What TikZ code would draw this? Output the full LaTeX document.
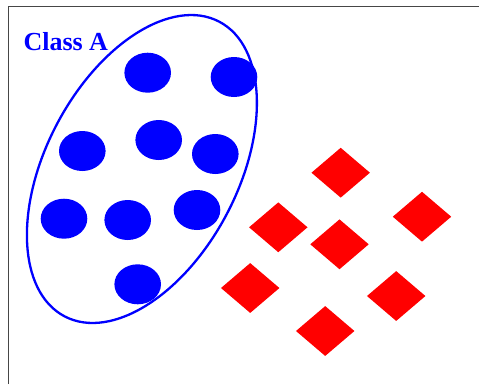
\documentclass[tikz,border=0pt]{standalone}
\usepackage{fontspec}
\setmainfont{Liberation Serif}
\usetikzlibrary{shapes.geometric}
\definecolor{pblue}{RGB}{0,0,255}
\definecolor{pred}{RGB}{255,0,0}
\definecolor{framegray}{RGB}{70,70,70}
\tikzset{
  dot/.style={ellipse, fill=pblue, draw=none, inner sep=0pt, minimum width=46.6pt, minimum height=40pt},
  gem/.style={diamond, fill=pred, draw=none, inner sep=0pt, minimum width=58.6pt, minimum height=50pt},
  hull/.style={ellipse, draw=pblue, line width=2.3pt, inner sep=0pt, minimum width=332.8pt, minimum height=192.2pt, rotate=62.3},
  lbl/.style={text=pblue, font=\bfseries\fontsize{26}{30}\selectfont, inner sep=0pt, anchor=base west}
}
\begin{document}
\begin{tikzpicture}[x=1pt, y=-1pt]
\useasboundingbox (0,0) rectangle (479,384);
\draw[framegray, line width=1.4pt] (8.5,384) |- (479,6.5);
% blue points
\node[dot] (b1) at (147.7,72.7) {};
\node[dot] (b2) at (234,77) {};
\node[dot] (b3) at (82.3,151) {};
\node[dot] (b4) at (158.7,140) {};
\node[dot] (b5) at (215.3,154) {};
\node[dot] (b6) at (64,218.7) {};
\node[dot] (b7) at (127.7,220) {};
\node[dot] (b8) at (197,210) {};
\node[dot] (b9) at (137.7,284.3) {};
% class boundary
\node[hull] (classA) at (141.9,169) {};
\node[lbl] (classAlabel) at (23.3,50) {Class A};
% red points
\node[gem] (r1) at (340.7,172.7) {};
\node[gem] (r2) at (422,216.7) {};
\node[gem] (r3) at (278.3,227.3) {};
\node[gem] (r4) at (339.5,244.3) {};
\node[gem] (r5) at (250.2,288) {};
\node[gem] (r6) at (396.2,296) {};
\node[gem] (r7) at (325.2,331) {};
\end{tikzpicture}
\end{document}
